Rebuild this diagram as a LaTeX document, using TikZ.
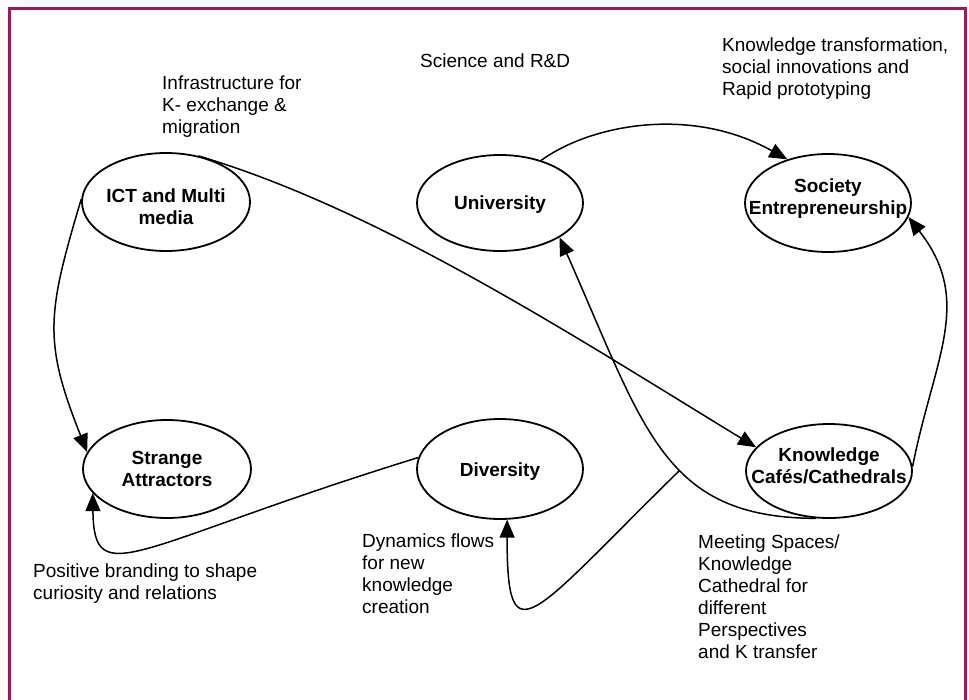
\documentclass[tikz,border=0pt]{standalone}
\usepackage{fontspec}
\setmainfont{Liberation Sans}
\usetikzlibrary{shapes.geometric,arrows.meta}
\definecolor{framec}{RGB}{155,26,92}
\begin{document}
\begin{tikzpicture}[x=1pt,y=-1pt,
  ell/.style={ellipse, draw, line width=1.8pt, inner sep=0pt},
  lbl/.style={font=\bfseries\fontsize{19}{22}\selectfont, align=center, inner sep=0pt},
  txt/.style={font=\fontsize{19}{22}\selectfont, align=left, inner sep=0pt, anchor=base west},
  conn/.style={line width=1.5pt, -{Triangle[length=18pt,width=15pt]}}]
\useasboundingbox (0,0) rectangle (969,699);
\draw[framec, line width=3pt] (9.5,710) -- (9.5,8.5) -- (965.5,8.5) -- (965.5,710);

\node[ell, minimum width=168pt, minimum height=98pt, label={[lbl,yshift=-5pt]center:ICT and Multi\\media}] (ict) at (166,202) {};
\node[ell, minimum width=166pt, minimum height=96pt, label={[lbl,yshift=-2pt]center:University}] (uni) at (500,203) {};
\node[ell, minimum width=166pt, minimum height=98pt, label={[lbl,yshift=4pt]center:Society\\Entrepreneurship}] (soc) at (828,203) {};
\node[ell, minimum width=168pt, minimum height=98pt, label={[lbl]center:Strange\\Attractors}] (str) at (167,469) {};
\node[ell, minimum width=166pt, minimum height=100pt, label={[lbl,yshift=-3pt]center:Diversity}] (div) at (500,469) {};
\node[ell, minimum width=166pt, minimum height=94pt, label={[lbl,yshift=5pt]center:Knowledge\\Cafés/Cathedrals}] (cafes) at (829,471) {};

\draw[conn] (ict.178) .. controls (47,314) and (43,341) .. (str.168);
\draw[conn] (ict.55) .. controls (380,210) and (572,335) .. (cafes.162);
\draw[conn] (uni.46) .. controls (590,125) and (690,105) .. (soc.133);
\draw[conn] (cafes.-105) .. controls (663,518) and (645,430) .. (uni.-30) coordinate[pos=0.42] (br);
\draw[conn] (cafes.3) .. controls (934,358) and (974,301) .. (soc.-10);
\draw[conn] (div.172) .. controls (132,546) and (94,593) .. (str.198);
\draw[conn] (br) .. controls (530,617) and (507,661) .. (div.-82);

\node[txt] (t1) at (162,133) {Infrastructure for\\K- exchange \&\\migration};
\node[txt] (t2) at (420,67) {Science and R\&D};
\node[txt] (t3) at (722,95) {Knowledge transformation,\\social innovations and\\Rapid prototyping};
\node[txt] (t4) at (33,599) {Positive branding to shape\\curiosity and relations};
\node[txt] (t5) at (362,613) {Dynamics flows\\for new\\knowledge\\creation};
\node[txt] (t6) at (698,658) {Meeting Spaces/\\Knowledge\\Cathedral for\\different\\Perspectives\\and K transfer};
\end{tikzpicture}
\end{document}
